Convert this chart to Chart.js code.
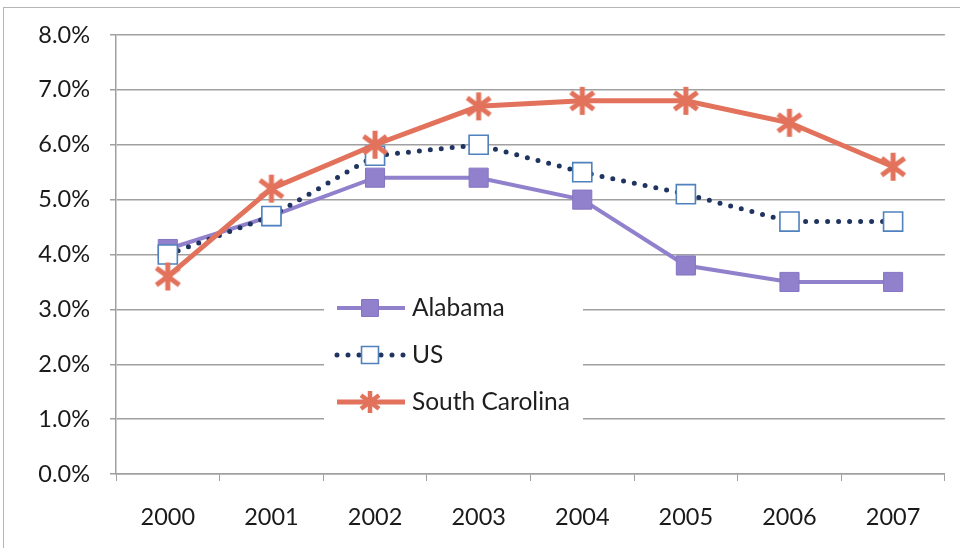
<!DOCTYPE html>
<html>
<head>
<meta charset="utf-8">
<script src="https://cdn.jsdelivr.net/npm/chart.js@4.4.1/dist/chart.umd.min.js"></script>
<style>
  html, body { margin: 0; padding: 0; background: #ffffff; }
  #wrap { width: 960px; height: 548px; position: relative; }
</style>
</head>
<body>
<div id="wrap"><canvas id="chart" width="960" height="548"></canvas></div>
<script>
// Unemployment rate by year
const years = ['2000', '2001', '2002', '2003', '2004', '2005', '2006', '2007'];
const alabama = [4.1, 4.7, 5.4, 5.4, 5.0, 3.8, 3.5, 3.5];
const us = [4.0, 4.7, 5.8, 6.0, 5.5, 5.1, 4.6, 4.6];
const southCarolina = [3.6, 5.2, 6.0, 6.7, 6.8, 6.8, 6.4, 5.6];
const seriesNames = ['Alabama', 'US', 'South Carolina'];

const FONT = 'Lato, "Liberation Sans", sans-serif';
const PURPLE = '#9181cc';
const BLUE = '#4f81bd';
const NAVY = '#1f3460';
const ORANGE = '#e2725b';
const GRID = '#a0a0a0';

// asterisk marker (vertical stroke plus an X)
function makeStar(size, color, lw) {
  const c = document.createElement('canvas');
  c.width = size; c.height = size;
  const g = c.getContext('2d');
  g.strokeStyle = color;
  g.lineWidth = lw;
  const m = size / 2, r = size / 2 - 1;
  g.beginPath();
  g.moveTo(m, m - r); g.lineTo(m, m + r);
  const d = r * 0.82;
  g.moveTo(m - d, m - d * 0.75); g.lineTo(m + d, m + d * 0.75);
  g.moveTo(m - d, m + d * 0.75); g.lineTo(m + d, m - d * 0.75);
  g.stroke();
  return c;
}
const starMarker = makeStar(30, ORANGE, 5);
const starLegend = makeStar(24, ORANGE, 4.5);

// legend panel drawn inside the plot area
const insideLegend = {
  id: 'insideLegend',
  afterDatasetsDraw(chart) {
    const ctx = chart.ctx;
    ctx.save();
    ctx.fillStyle = '#ffffff';
    ctx.fillRect(324, 284, 259, 140);
    const rows = [308, 355, 402];
    chart.data.datasets.forEach((ds, i) => {
      const y = rows[i];
      ctx.save();
      ctx.strokeStyle = ds.borderColor;
      ctx.lineWidth = ds.borderWidth;
      ctx.lineCap = ds.borderCapStyle || 'butt';
      ctx.setLineDash(ds.borderDash || []);
      ctx.beginPath();
      ctx.moveTo(337, y); ctx.lineTo(405, y);
      ctx.stroke();
      ctx.restore();
      ctx.save();
      ctx.fillStyle = ds.pointBackgroundColor;
      ctx.strokeStyle = ds.pointBorderColor;
      ctx.lineWidth = ds.pointBorderWidth;
      const ps = ds.legendPointStyle || ds.pointStyle;
      Chart.helpers.drawPoint(ctx, { pointStyle: ps, radius: 12, rotation: 0, borderWidth: ds.pointBorderWidth }, 370, y);
      ctx.restore();
      ctx.fillStyle = '#1e1e1e';
      ctx.font = '24.5px ' + FONT;
      ctx.textBaseline = 'middle';
      ctx.textAlign = 'left';
      ctx.fillText(seriesNames[i], 412, y);
    });
    ctx.restore();
  }
};

// thin outer frame of the chart box
const frame = {
  id: 'frame',
  beforeDraw(chart) {
    const ctx = chart.ctx;
    ctx.save();
    ctx.fillStyle = '#ffffff';
    ctx.fillRect(0, 0, chart.width, chart.height);
    ctx.strokeStyle = '#b5b5b5';
    ctx.lineWidth = 1;
    ctx.strokeRect(3.5, 7.5, 1000, 600);
    ctx.restore();
  }
};

new Chart(document.getElementById('chart'), {
  type: 'line',
  data: {
    labels: years,
    datasets: [
      {
        label: seriesNames[0],
        data: alabama,
        borderColor: PURPLE,
        borderWidth: 4,
        pointStyle: 'rect',
        pointRadius: 13.5,
        pointBackgroundColor: PURPLE,
        pointBorderColor: '#8474c2',
        pointBorderWidth: 1,
        tension: 0,
        order: 2
      },
      {
        label: seriesNames[1],
        data: us,
        borderColor: NAVY,
        borderWidth: 5,
        borderDash: [0, 11],
        borderCapStyle: 'round',
        pointStyle: 'rect',
        pointRadius: 13.5,
        pointBackgroundColor: '#ffffff',
        pointBorderColor: BLUE,
        pointBorderWidth: 1.6,
        tension: 0,
        order: 1
      },
      {
        label: seriesNames[2],
        data: southCarolina,
        borderColor: ORANGE,
        borderWidth: 5,
        pointStyle: starMarker,
        legendPointStyle: starLegend,
        pointRadius: 15,
        pointBackgroundColor: ORANGE,
        pointBorderColor: ORANGE,
        pointBorderWidth: 0,
        tension: 0,
        order: 0
      }
    ]
  },
  options: {
    responsive: false,
    animation: false,
    events: [],
    layout: { padding: { top: 35, right: 15, bottom: 0, left: 0 } },
    plugins: {
      legend: { display: false },
      tooltip: { enabled: false },
      title: { display: false }
    },
    scales: {
      x: {
        offset: true,
        grid: {
          offset: true,
          drawOnChartArea: false,
          drawTicks: true,
          tickLength: 7,
          color: GRID
        },
        border: { display: true, color: GRID, width: 1.5 },
        ticks: {
          color: '#1a1a1a',
          font: { family: FONT, size: 23.5 },
          padding: 22,
          maxRotation: 0
        },
        afterFit(scale) { scale.height = 74; }
      },
      y: {
        min: 0,
        max: 8,
        grid: {
          color: GRID,
          lineWidth: 1.5,
          drawTicks: true,
          tickLength: 6
        },
        border: { display: true, color: GRID, width: 1.5 },
        ticks: {
          stepSize: 1,
          color: '#1a1a1a',
          font: { family: FONT, size: 23.5 },
          padding: 20,
          callback: (v) => v.toFixed(1) + '%'
        },
        afterFit(scale) { scale.width = 116; }
      }
    }
  },
  plugins: [frame, insideLegend]
});
</script>
</body>
</html>
